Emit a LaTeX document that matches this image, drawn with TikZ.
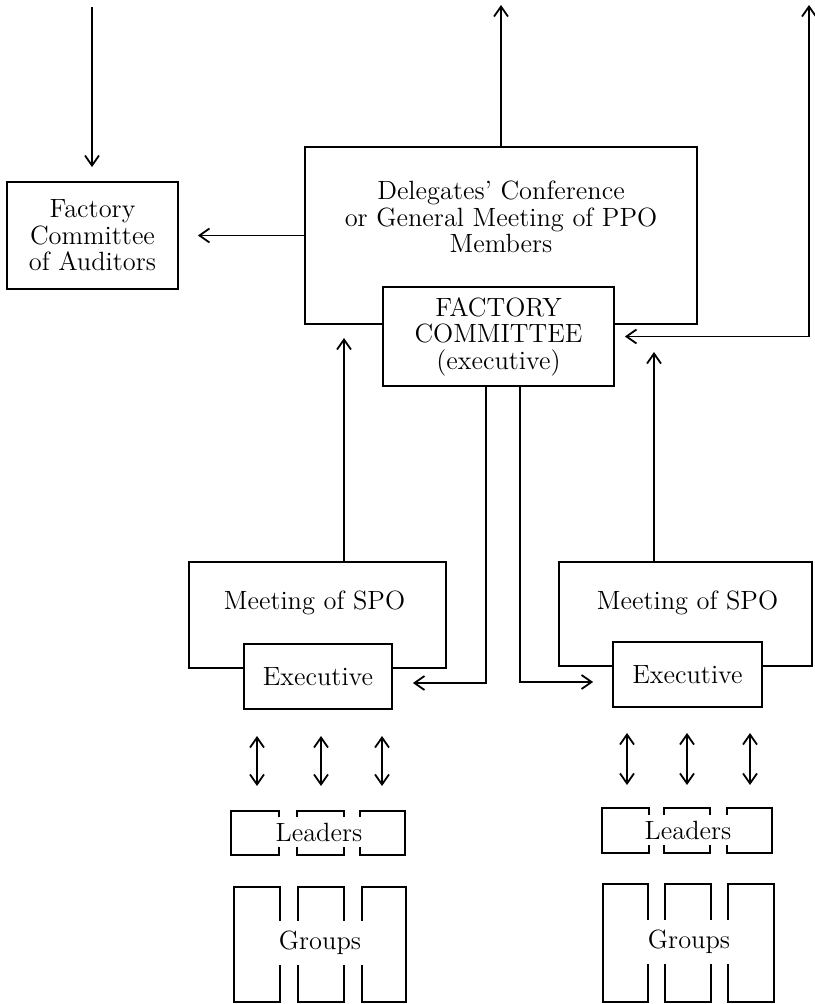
\documentclass[tikz,border=0pt]{standalone}
\usepackage{fontspec}
\usepackage{tikz}
\usetikzlibrary{arrows.meta}
\tikzset{
  box/.style={draw, fill=white, align=center, inner sep=0pt},
  lbl/.style={align=center, inner sep=0pt},
  cover/.style={fill=white, inner xsep=2pt},
}

\begin{document}
\begin{tikzpicture}[x=0.5pt, y=-0.5pt, line width=0.9pt,
  >={Straight Barb[length=5pt,width=7pt]}, font=\fontsize{13.2}{13.3}\selectfont]
\useasboundingbox (0,0) rectangle (814,1004);
% top level
\node[box, minimum width=85.5pt, minimum height=53.5pt] (audit) at (92.5,235.5) {Factory\\Committee\\of Auditors};
\node[box, minimum width=196pt, minimum height=88.5pt] (conf) at (501,235.5) {};
\node[lbl] (conftext) at (501,217) {Delegates' Conference\\or General Meeting of PPO\\Members};
\node[box, minimum width=115.5pt, minimum height=49.5pt] (fc) at (498.5,336.5) {FACTORY\\COMMITTEE\\(executive)};
\coordinate (intop) at (92,7);
\coordinate (conftop) at (501,5);
\coordinate (rtop) at (809,5);
\draw [->] (intop) -- (intop |- audit.north) [shorten >=7pt];
\draw [->] (conf.north) -- (conftop);
\draw [->, shorten >=9.5pt] (conf.west) -- (audit.east);
\draw [<->, shorten <=5pt] (fc.east) -| (rtop);
% shop level
\node[box, minimum width=128.5pt, minimum height=53pt] (spo1) at (317.5,615) {};
\node[lbl] (spotext1) at (314.5,603) {Meeting of SPO};
\node[box, minimum width=74pt, minimum height=32.5pt] (ex1) at (318,676.5) {Executive};
\node[box, minimum width=126.5pt, minimum height=52pt] (spo2) at (685.5,614) {};
\node[lbl] (spotext2) at (687.5,603) {Meeting of SPO};
\node[box, minimum width=74.5pt, minimum height=32.5pt] (ex2) at (687.5,674.5) {Executive};
\coordinate (up1) at (344,338);
\coordinate (up2) at (654,352);
\coordinate (dn1) at (486,683);
\coordinate (dn2) at (520,682);
\draw [->] (spo1.north -| up1) -- (up1);
\draw [->] (spo2.north -| up2) -- (up2);
\draw [->, shorten >=10pt] (fc.south -| dn1) |- (ex1.east |- dn1);
\draw [->, shorten >=9.5pt] (fc.south -| dn2) |- (ex2.west |- dn2);
\foreach \x [count=\i] in {257,321,382} {
  \coordinate (la\i) at (\x,736);
  \coordinate (lb\i) at (\x,786);
  \draw [<->] (la\i) -- (lb\i);
}
\foreach \x [count=\i] in {627,687,750} {
  \coordinate (ra\i) at (\x,733);
  \coordinate (rb\i) at (\x,785);
  \draw [<->] (ra\i) -- (rb\i);
}
% leaders and groups
\foreach \a/\b in {231/279,297/344,360/405}
  \draw (\a,811) rectangle (\b,855);
\foreach \a/\b in {602/649,664/710,727/772}
  \draw (\a,808) rectangle (\b,853);
\node[cover, inner ysep=2.7pt] (lead1) at (319,832) {Leaders};
\node[cover, inner ysep=2.7pt] (lead2) at (688,830) {Leaders};
\foreach \a/\b in {234/280,298/344,362/406}
  \draw (\a,887) rectangle (\b,1002);
\foreach \a/\b in {603/648,665/711,728/774}
  \draw (\a,884) rectangle (\b,1002);
\node[cover, inner ysep=4.9pt] (grp1) at (320,943) {Groups};
\node[cover, inner ysep=4.9pt] (grp2) at (689,942) {Groups};
\end{tikzpicture}
\end{document}
